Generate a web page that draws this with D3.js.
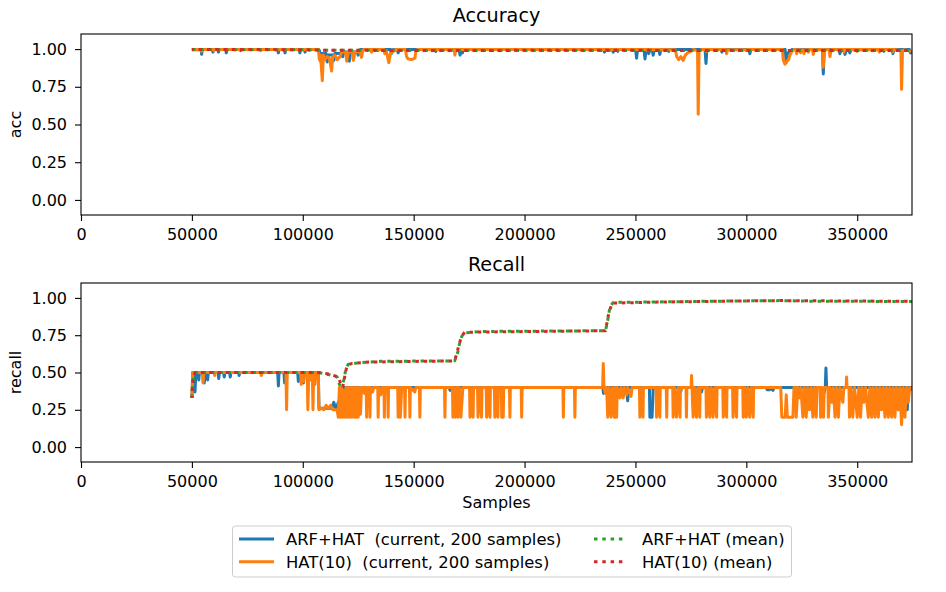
<!DOCTYPE html>
<html>
<head>
<meta charset="utf-8">
<script src="https://cdn.jsdelivr.net/npm/d3@7"></script>
<style>
  body { margin: 0; background: #fff; }
  svg text { font-family: 'DejaVu Sans', sans-serif; fill: #000; }
</style>
</head>
<body>
<svg id="chart" width="946" height="592"></svg>
<script>
// ---- data (x = samples) ----
const xTicks = [0, 50000, 100000, 150000, 200000, 250000, 300000, 350000];
const yTicks = [0, 0.25, 0.5, 0.75, 1.0];
const panelTitles = ['Accuracy', 'Recall'];
const panelYLabels = ['acc', 'recall'];
const seriesLabels = [
  'ARF+HAT  (current, 200 samples)',
  'HAT(10)  (current, 200 samples)',
  'ARF+HAT (mean)',
  'HAT(10) (mean)'
];

const accArf = [
  [50000,0.995],[52000,0.998],[54200,0.995],[54400,0.965],[54700,0.997],[59200,0.997],[59500,0.98],
  [59800,0.997],[61700,0.997],[62000,0.98],[62300,0.997],[65200,0.997],[65500,0.975],[65900,0.997],
  [71700,0.997],[72000,0.99],[72300,0.998],[88700,0.998],[89000,0.975],[89300,0.997],[91700,0.997],
  [92000,0.975],[92300,0.997],[98400,0.997],[98700,0.975],[99000,0.997],[100700,0.997],[101000,0.98],
  [101300,0.997],[107200,0.997],[107500,0.99],[108000,0.92],[108500,0.97],[110500,0.97],[111000,0.915],
  [111500,0.96],[113500,0.96],[114000,0.925],[114500,0.97],[117500,0.97],[118000,0.95],[118500,0.98],
  [120500,0.98],[121000,0.92],[121500,0.98],[124500,0.98],[125000,0.96],[125500,0.99],[126000,0.997],
  [139600,0.997],[140000,0.97],[140400,0.995],[142600,0.997],[143000,0.975],[143400,0.997],[159600,0.997],
  [160000,0.985],[160400,0.997],[170500,0.997],[170900,0.96],[171300,0.99],[171600,0.99],[172000,0.975],
  [172400,0.998],[235600,0.998],[236000,0.98],[236400,0.995],[239600,0.995],[240000,0.98],[240400,0.995],
  [241600,0.995],[242000,0.985],[242400,0.997],[250100,0.997],[250500,0.94],[250900,0.99],[253900,0.99],
  [254300,0.935],[254700,0.985],[255600,0.985],[256000,0.97],[256400,0.99],[257600,0.99],[258000,0.96],
  [258400,0.99],[260600,0.99],[261000,0.965],[261400,0.995],[264600,0.995],[265000,0.985],[265400,0.997],
  [281400,0.997],[281800,0.905],[282200,0.99],[282600,0.997],[288600,0.997],[289000,0.98],[289400,0.997],
  [301200,0.997],[301600,0.97],[302000,0.997],[317500,0.997],[318000,0.91],[318500,0.97],[320000,0.99],
  [320500,0.997],[334300,0.997],[334700,0.835],[335100,0.99],[335500,0.997],[341800,0.997],[342200,0.97],
  [342600,0.99],[344100,0.99],[344500,0.965],[344900,0.99],[346300,0.99],[346700,0.975],[347100,0.995],
  [361600,0.995],[362000,0.985],[362400,0.997],[365700,0.997],[366100,0.97],[366500,0.99],[366900,0.997],
  [373600,0.997],[374000,0.975],[374700,0.98]
];

const accHat = [
  [50000,0.998],[54200,0.997],[54400,0.985],[54700,0.998],[59700,0.998],[60000,0.99],[60300,0.998],
  [80700,0.998],[81000,0.99],[81300,0.998],[107000,0.998],[107500,0.93],[108000,0.96],[108800,0.79],
  [109300,0.96],[110000,0.93],[111000,0.95],[112000,0.94],[113000,0.855],[113500,0.95],[114500,0.96],
  [115500,0.93],[116800,0.95],[117500,0.98],[119300,0.98],[119800,0.92],[120500,0.98],[122300,0.98],
  [122800,0.925],[123500,0.98],[126000,0.98],[126500,0.945],[127000,0.99],[127500,0.997],[130600,0.997],
  [131000,0.98],[131400,0.997],[133600,0.997],[134000,0.99],[134400,0.997],[136600,0.997],[137000,0.97],
  [137600,0.99],[138800,0.91],[139500,0.97],[141000,0.985],[142000,0.997],[146300,0.997],[146800,0.95],
  [147500,0.935],[149000,0.93],[150600,0.94],[151000,0.99],[152000,0.998],[168300,0.997],[168600,0.96],
  [169000,0.997],[255000,0.998],[255300,0.99],[255600,0.998],[268000,0.995],[268600,0.95],[269500,0.93],
  [270500,0.95],[271500,0.925],[272500,0.96],[273500,0.975],[275000,0.985],[276000,0.997],[278000,0.99],
  [278300,0.568],[278700,0.99],[280000,0.997],[281600,0.997],[282000,0.985],[282400,0.998],[290700,0.998],
  [291100,0.97],[291500,0.995],[299600,0.995],[300000,0.99],[300400,0.998],[316300,0.997],[316600,0.93],
  [317400,0.90],[318000,0.915],[319000,0.93],[319700,0.96],[320500,0.985],[321500,0.997],[322300,0.997],
  [322700,0.97],[323200,0.995],[324100,0.995],[324500,0.975],[325000,0.995],[325600,0.995],[326000,0.97],
  [326500,0.995],[327600,0.995],[328000,0.98],[328400,0.997],[329800,0.997],[330200,0.965],[330600,0.995],
  [334300,0.997],[334700,0.88],[335200,0.99],[335600,0.997],[337300,0.997],[337700,0.95],[338200,0.99],
  [338600,0.997],[343600,0.997],[344000,0.98],[344400,0.997],[349600,0.997],[350000,0.985],[350400,0.997],
  [359600,0.997],[360000,0.98],[360400,0.997],[365600,0.997],[366000,0.98],[366400,0.997],[369700,0.99],
  [370000,0.733],[370400,0.98],[371000,0.995],[374700,0.985]
];

const accArfMean = [
  [50000,0.997],[70000,0.996],[100000,0.995],[110000,0.992],[150000,0.991],[250000,0.991],
  [300000,0.99],[374700,0.99]
];

const accHatMean = [
  [50000,0.998],[70000,0.997],[100000,0.996],[110000,0.992],[150000,0.991],[250000,0.992],
  [280000,0.99],[374700,0.99]
];

const recallArf = [
  [50000,0.33],[50400,0.5],[51100,0.5],[51400,0.37],[51800,0.5],[52800,0.5],[53100,0.45],[53400,0.5],
  [55300,0.5],[55600,0.43],[56000,0.5],[56800,0.5],[57100,0.45],[57400,0.5],[61800,0.5],[62100,0.46],
  [62400,0.5],[64300,0.5],[64600,0.47],[64900,0.5],[67000,0.5],[67300,0.47],[67600,0.5],[71000,0.5],
  [71300,0.48],[71600,0.5],[88700,0.5],[89000,0.41],[89300,0.5],[91500,0.5],[91800,0.43],[92100,0.5],
  [97700,0.5],[98000,0.44],[98300,0.5],[100000,0.5],[100300,0.43],[100600,0.5],[107000,0.5],[107300,0.26],
  [113000,0.26],[114000,0.3],[115000,0.25],[116000,0.3],[117000,0.22],[117500,0.33],[118000,0.24],
  [118500,0.4],[122800,0.4],[123000,0.37],[123300,0.4],[166000,0.4],[166400,0.38],[166800,0.4],
  [235300,0.4],[235600,0.36],[236000,0.4],[246000,0.4],[246500,0.31],[247000,0.4],[251700,0.4],
  [252000,0.35],[252400,0.4],[256300,0.4],[256500,0.2],[257500,0.2],[258000,0.4],[270000,0.4],
  [270400,0.37],[270800,0.4],[279600,0.4],[279800,0.37],[280200,0.4],[309000,0.4],[309400,0.385],
  [310500,0.385],[311000,0.4],[312000,0.38],[312500,0.4],[333300,0.4],[333600,0.3],[334200,0.25],
  [334800,0.35],[335600,0.4],[335900,0.53],[336200,0.4],[371800,0.4],[372000,0.25],[372600,0.25],
  [372900,0.4],[374700,0.4]
];

const recallHat = [
  [50000,0.33],[50400,0.5],[54700,0.5],[55000,0.43],[55400,0.5],[60000,0.5],[60300,0.48],[60600,0.5],
  [81000,0.5],[81300,0.48],[81600,0.5],[92400,0.5],[92700,0.25],[93000,0.5],[99000,0.5],[99300,0.42],
  [99700,0.5],[100400,0.44],[100800,0.5],[102000,0.5],[102300,0.25],[102700,0.5],[103300,0.45],
  [103700,0.5],[104300,0.5],[104600,0.25],[104900,0.5],[105500,0.42],[106000,0.5],[107000,0.5],
  [107300,0.25],[108500,0.26],[109500,0.25],[110500,0.28],[111500,0.26],[112500,0.28],[113500,0.25],
  [115500,0.25],[116000,0.2],[116500,0.4],[117000,0.2],[117500,0.4],[118000,0.2],[118500,0.38],
  [119000,0.2],[119500,0.4],[120000,0.2],[120500,0.4],[121000,0.2],[121500,0.4],[122000,0.2],
  [122500,0.4],[123000,0.2],[123500,0.4],[124000,0.2],[124500,0.4],[125000,0.2],[125500,0.4],
  [126000,0.22],[126500,0.4],[127500,0.4],[127800,0.36],[128100,0.4],[128600,0.4],[128800,0.2],
  [129000,0.4],[130100,0.4],[130300,0.2],[130500,0.4],[131500,0.37],[132000,0.4],[133800,0.4],
  [134000,0.2],[134200,0.4],[135200,0.35],[135600,0.4],[136600,0.4],[136800,0.2],[137000,0.4],
  [138300,0.4],[138500,0.2],[138700,0.4],[142800,0.4],[143000,0.2],[143500,0.4],[144000,0.2],
  [144600,0.4],[145900,0.4],[146100,0.2],[146300,0.4],[148100,0.4],[148300,0.2],[148500,0.4],
  [150500,0.37],[151000,0.4],[152600,0.4],[152800,0.2],[153000,0.4],[163900,0.4],[164100,0.2],
  [164300,0.4],[167500,0.4],[167700,0.2],[168200,0.4],[168800,0.2],[169400,0.4],[169800,0.4],
  [170000,0.2],[170600,0.4],[171300,0.2],[172200,0.4],[175200,0.4],[175400,0.2],[176000,0.4],
  [176800,0.2],[177000,0.4],[178800,0.4],[179000,0.2],[179800,0.4],[180600,0.2],[180800,0.4],
  [182700,0.4],[182900,0.2],[183600,0.4],[184400,0.2],[184600,0.4],[186400,0.4],[186600,0.2],
  [187300,0.4],[188000,0.2],[188200,0.4],[189500,0.4],[189700,0.2],[190400,0.2],[190600,0.4],
  [193200,0.4],[193400,0.2],[193600,0.4],[198500,0.4],[198700,0.2],[198900,0.4],[217300,0.4],
  [217500,0.2],[217700,0.4],[222500,0.4],[222700,0.2],[222900,0.4],[235200,0.4],[235500,0.56],
  [235800,0.4],[236500,0.36],[237000,0.4],[237500,0.2],[238200,0.4],[239000,0.2],[239700,0.4],
  [240500,0.2],[241000,0.4],[241500,0.2],[241800,0.4],[243000,0.33],[243500,0.4],[244500,0.33],
  [245000,0.4],[246000,0.35],[246500,0.4],[248000,0.34],[248500,0.4],[251800,0.4],[252000,0.2],
  [252700,0.4],[253400,0.2],[253600,0.4],[259300,0.4],[259500,0.2],[260300,0.4],[261000,0.2],
  [261200,0.4],[263900,0.4],[264100,0.2],[264300,0.4],[266800,0.4],[267000,0.2],[267700,0.4],
  [268500,0.2],[269300,0.4],[270100,0.2],[270300,0.4],[272800,0.4],[273000,0.2],[273200,0.4],
  [275100,0.4],[275300,0.48],[275500,0.4],[276000,0.2],[276700,0.4],[277500,0.2],[278200,0.4],
  [279000,0.2],[279200,0.4],[281800,0.4],[282000,0.2],[282700,0.4],[283500,0.2],[284200,0.4],
  [285000,0.2],[285800,0.4],[286600,0.2],[286800,0.4],[289400,0.4],[289600,0.2],[290300,0.4],
  [291100,0.2],[291300,0.4],[293800,0.4],[294000,0.2],[294800,0.4],[295600,0.2],[295800,0.4],
  [298400,0.4],[298600,0.2],[299300,0.4],[300000,0.2],[300700,0.4],[301500,0.2],[302300,0.4],
  [303100,0.2],[303300,0.4],[315500,0.4],[316000,0.2],[317500,0.2],[318000,0.35],[318500,0.2],
  [321000,0.2],[321500,0.4],[322300,0.4],[322500,0.2],[323200,0.4],[324000,0.33],[324600,0.4],
  [325500,0.2],[326200,0.4],[327000,0.2],[327700,0.4],[328500,0.25],[329200,0.4],[330000,0.2],
  [330700,0.4],[331500,0.2],[331900,0.4],[333300,0.4],[333500,0.2],[334100,0.4],[334800,0.2],
  [335100,0.4],[336800,0.4],[337000,0.2],[337700,0.4],[338500,0.3],[339200,0.4],[340000,0.2],
  [340700,0.4],[341500,0.2],[342200,0.4],[343500,0.3],[344000,0.4],[345000,0.4],[345200,0.47],
  [345400,0.4],[346300,0.4],[346500,0.2],[347200,0.4],[348000,0.2],[348800,0.4],[350000,0.2],
  [350700,0.4],[351500,0.2],[352200,0.4],[353000,0.3],[353800,0.4],[355000,0.2],[355700,0.4],
  [356500,0.2],[357200,0.4],[358000,0.2],[358700,0.4],[359500,0.2],[360200,0.4],[361000,0.25],
  [361700,0.4],[362500,0.2],[363200,0.4],[364000,0.2],[364700,0.4],[365500,0.2],[366200,0.4],
  [367000,0.2],[367700,0.4],[368500,0.25],[369200,0.4],[370000,0.15],[370700,0.4],[371500,0.2],
  [372200,0.4],[373000,0.3],[373700,0.4],[374700,0.38]
];

const recallArfMean = [
  [50000,0.33],[50500,0.45],[51500,0.5],[107000,0.5],[112000,0.485],[115500,0.47],[116500,0.42],
  [117500,0.41],[118500,0.45],[119500,0.53],[120500,0.555],[125000,0.565],[135000,0.575],[168500,0.578],
  [170000,0.64],[171000,0.72],[172500,0.765],[180000,0.775],[236500,0.78],[237500,0.85],[238500,0.94],
  [240000,0.97],[260000,0.973],[280000,0.977],[300000,0.98],[315000,0.982],[330000,0.978],[374700,0.976]
];

const recallHatMean = [
  [50000,0.33],[50500,0.47],[51500,0.5],[107000,0.5],[112000,0.49],[116000,0.47],[117000,0.43],
  [118000,0.40],[119000,0.48],[120000,0.55],[122000,0.56],[130000,0.57],[168500,0.578],[170000,0.66],
  [171500,0.74],[173000,0.77],[236500,0.78],[238000,0.9],[239500,0.965],[260000,0.972],[300000,0.98],
  [315000,0.982],[374700,0.977]
];

// ---- styling ----
const colors = ['#1f77b4', '#ff7f0e', '#2ca02c', '#d62728'];
const lineWidth = 3;
const dotDash = '3.5,4.8';
const dashOffsets = [0, 0, 0, 1.6];

const plotLeft = 81;
const plotRight = 912;
const panels = [
  { top: 34, bottom: 215, series: [accArf, accHat, accArfMean, accHatMean] },
  { top: 283, bottom: 462, series: [recallArf, recallHat, recallArfMean, recallHatMean] }
];

const svg = d3.select('#chart');

const x = d3
  .scaleLinear()
  .domain([0, d3.max(recallHat, (d) => d[0])])
  .range([plotLeft, plotRight]);

panels.forEach((panel, i) => {
  const y = d3.scaleLinear().domain([-0.1, 1.1]).range([panel.bottom, panel.top]);

  const g = svg.append('g').attr('class', 'panel-' + i);

  g.append('clipPath')
    .attr('id', 'clip-' + i)
    .append('rect')
    .attr('x', plotLeft)
    .attr('y', panel.top)
    .attr('width', plotRight - plotLeft)
    .attr('height', panel.bottom - panel.top);

  const line = d3
    .line()
    .x((d) => x(d[0]))
    .y((d) => y(d[1]));

  g.append('g')
    .attr('clip-path', `url(#clip-${i})`)
    .selectAll('path')
    .data(panel.series)
    .join('path')
    .attr('d', line)
    .attr('fill', 'none')
    .attr('stroke', (d, j) => colors[j])
    .attr('stroke-width', lineWidth)
    .attr('stroke-linejoin', 'round')
    .attr('stroke-dasharray', (d, j) => (j > 1 ? dotDash : null))
    .attr('stroke-dashoffset', (d, j) => dashOffsets[j]);

  // axes
  const xAxis = g
    .append('g')
    .attr('transform', `translate(0, ${panel.bottom})`)
    .call(
      d3.axisBottom(x).tickValues(xTicks).tickFormat(d3.format('d')).tickSize(6).tickSizeOuter(0).tickPadding(8)
    );

  const yAxis = g
    .append('g')
    .attr('transform', `translate(${plotLeft}, 0)`)
    .call(
      d3.axisLeft(y).tickValues(yTicks).tickFormat(d3.format('.2f')).tickSize(6).tickSizeOuter(0).tickPadding(8)
    );

  [xAxis, yAxis].forEach((ax) => {
    ax.attr('font-family', null).attr('font-size', null);
    ax.select('.domain').remove();
    ax.selectAll('line').attr('stroke', '#000').attr('stroke-width', 1.1);
    ax.selectAll('text').style('font-size', '16px');
  });

  // frame
  g.append('rect')
    .attr('x', plotLeft)
    .attr('y', panel.top)
    .attr('width', plotRight - plotLeft)
    .attr('height', panel.bottom - panel.top)
    .attr('fill', 'none')
    .attr('stroke', '#000')
    .attr('stroke-width', 1.1);

  g.append('text')
    .attr('x', (plotLeft + plotRight) / 2)
    .attr('y', panel.top - 12.5)
    .attr('text-anchor', 'middle')
    .style('font-size', '19.2px')
    .text(panelTitles[i]);

  g.append('text')
    .attr('transform', `translate(20.5, ${(panel.top + panel.bottom) / 2}) rotate(-90)`)
    .attr('text-anchor', 'middle')
    .style('font-size', '16px')
    .text(panelYLabels[i]);
});

svg.append('text')
  .attr('x', (plotLeft + plotRight) / 2)
  .attr('y', 508)
  .attr('text-anchor', 'middle')
  .style('font-size', '16px')
  .text('Samples');

// legend
const legend = svg.append('g').attr('class', 'legend');

legend.append('rect')
  .attr('x', 232.5)
  .attr('y', 526)
  .attr('width', 559)
  .attr('height', 51)
  .attr('rx', 3)
  .attr('fill', '#fff')
  .attr('fill-opacity', 0.8)
  .attr('stroke', '#cccccc')
  .attr('stroke-width', 1);

const legendItems = legend
  .selectAll('g.item')
  .data(seriesLabels)
  .join('g')
  .attr('class', 'item')
  .attr('transform', (d, i) => `translate(${i < 2 ? 239 : 594}, ${i % 2 === 0 ? 539 : 561.7})`);

legendItems.append('line')
  .attr('x1', 0)
  .attr('x2', (d, i) => (i < 2 ? 35 : 30))
  .attr('stroke', (d, i) => colors[i])
  .attr('stroke-width', lineWidth)
  .attr('stroke-dasharray', (d, i) => (i > 1 ? dotDash : null));

legendItems.append('text')
  .attr('x', (d, i) => (i < 2 ? 47 : 48))
  .attr('y', 5.9)
  .style('font-size', '16.4px')
  .style('white-space', 'pre')
  .text((d) => d);
</script>
</body>
</html>
